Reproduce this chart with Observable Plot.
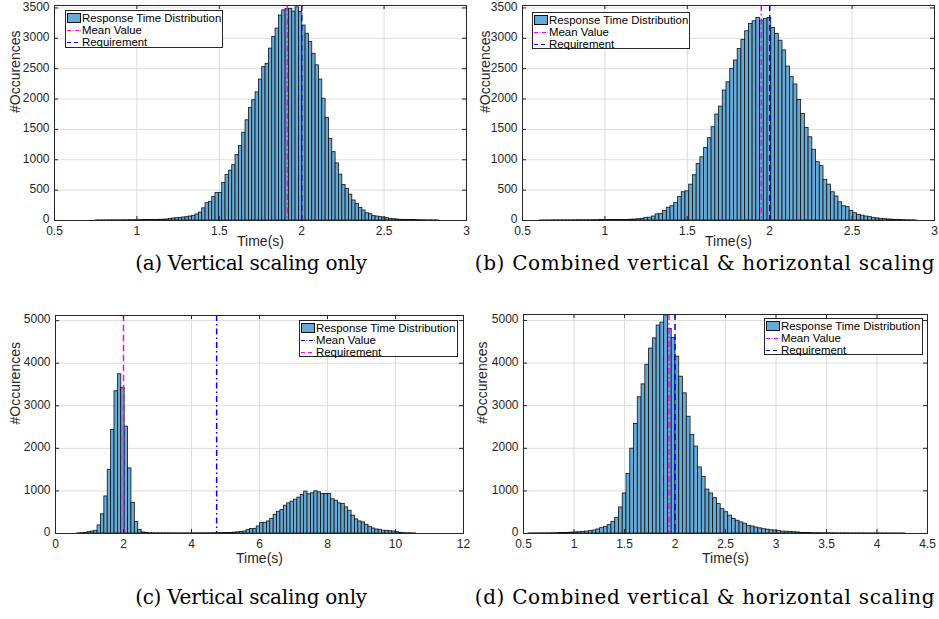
<!DOCTYPE html>
<html>
<head>
<meta charset="utf-8">
<script src="https://cdn.jsdelivr.net/npm/d3@7"></script>
<script src="https://cdn.jsdelivr.net/npm/@observablehq/plot@0.6"></script>
<style>
  html, body { margin: 0; padding: 0; background: #fff; }
  #root { position: relative; width: 939px; height: 619px; overflow: hidden; font-family: "Liberation Sans", Arial, sans-serif; }
  .panel { position: absolute; }
  .legend { position: absolute; background: #fff; border: 1px solid #262626; box-sizing: border-box; }
  .legend .row { position: absolute; left: 0; height: 12px; line-height: 12px; font-size: 11.4px; color: #000; white-space: nowrap; }
  .legend .row svg { position: absolute; left: 1px; top: 0; }
  .legend .row span { position: absolute; left: 16px; top: 0; }
  .caption { position: absolute; transform: translateX(-50%); white-space: nowrap; font-family: "DejaVu Serif", serif; font-size: 20px; line-height: 24px; color: #000; }
</style>
</head>
<body>
<div id="root"></div>
<script>
// ---------- Data ----------
const xTicksAB = [0.5, 1, 1.5, 2, 2.5, 3];
const yTicksAB = [0, 500, 1000, 1500, 2000, 2500, 3000, 3500];
const xTicksC = [0, 2, 4, 6, 8, 10, 12];
const xTicksD = [0.5, 1, 1.5, 2, 2.5, 3, 3.5, 4, 4.5];
const yTicksCD = [0, 1000, 2000, 3000, 4000, 5000];

const legendLabels = ["Response Time Distribution", "Mean Value", "Requirement"];
const captions = [
  "(a) Vertical scaling only",
  "(b) Combined vertical & horizontal scaling",
  "(c) Vertical scaling only",
  "(d) Combined vertical & horizontal scaling"
];

// (a) histogram: first bin edge, bin width, counts
const startA = 0.7485;
const widthA = 0.02024;
const countsA = [
  1,1,2,1,2,3,3,3,4,4,5,5,6,6,7,8,8,9,10,12,13,
  16,27,33,38,44,50,55,66,77,100,
  130,200,285,307,385,455,455,620,750,820,
  910,1080,1225,1445,1650,1855,1980,2110,2320,2525,
  2580,2830,3020,3160,3375,3460,3485,3485,3440,3510,
  3430,3210,3075,2940,2745,2555,2320,2005,1690,1345,
  1125,940,755,585,520,425,330,275,205,165,
  120,105,72,65,55,50,38,27,22,16,
  11,11,
  9,8,7,6,5,4,3,3,2,2
];
const meanA = 1.913, reqA = 2.0;

// (b)
const startB = 0.6059;
const widthB = 0.02264;
const countsB = [
  1,1,1,2,2,2,3,3,3,4,4,4,5,5,6,6,7,7,8,8,9,9,10,
  10,13,16,22,27,44,46,66,100,110,
  155,210,235,290,385,465,480,590,745,930,
  1040,1195,1355,1535,1745,1875,2140,2275,2495,2635,
  2825,2975,3115,3235,3280,3335,3290,3320,3335,3170,
  3070,2960,2800,2535,2360,2240,1985,1755,1525,1370,
  1165,960,895,670,590,465,395,300,235,220,
  155,120,95,80,66,55,44,
  35,28,22,17,13,10,8,6,4,3,2
];
const meanB = 1.949, reqB = 2.0;

// (c)
const startC = 0.64;
const widthC = 0.0996;
const countsC = [
  3,8,16,31,47,63,190,450,870,1490,2430,3340,3740,3420,2510,1530,720,270,80,25,
  12,8,6,5,5,4,4,4,3,3,3,3,3,4,4,4,5,5,6,6,7,8,9,10,12,15,20,28,35,
  47,79,102,110,165,244,252,283,346,440,
  511,550,653,708,748,795,842,905,984,920,
  944,991,968,929,929,929,803,771,708,693,
  614,535,420,330,283,260,205,157,118,94,
  87,63,63,55,47,31,16,
  8,6,4,3
];
const meanC = 4.74, reqC = 2.0;

// (d)
const startD = 0.55;
const widthD = 0.0373;
const countsD = [
  2,2,3,3,4,5,6,8,10,12,15,20,25,30,38,45,55,70,95,
  125,157,196,274,368,611,940,1395,1990,2570,
  3197,3500,3960,4340,4580,4880,4950,5118,
  4800,4590,4150,3680,3290,2740,2310,2040,1550,1330,1030,940,830,690,570,
  500,420,340,300,260,230,180,165,140,120,100,90,75,70,55,45,40,35,30,25,
  15,12,10,9,8,7,6,6,5,5,4,4,4,3,3,3,3,2,2,2,2,2,2,2,1,1,1,1
];
const meanD = 1.941, reqD = 2.0;

// ---------- Styles ----------
const BAR_FILL = "#66aad7";
const MAGENTA = "#ff00ff";
const BLUE = "#0000ff";
const DASHDOT = "6,3,1.5,3";
const DASH = "6,4";

const root = document.getElementById("root");

function panel(cfg) {
  const {left, top, width, height, ml, mr, mt, mb, xDomain, yDomain, xTicks, yTicks,
         start, binWidth, counts, meanX, reqX, meanColor, reqColor, xlabDy, ylabDx} = cfg;
  const bins = counts.map((c, i) => ({x1: start + i * binWidth, x2: start + (i + 1) * binWidth, y: c}));
  const innerW = width - ml - mr;
  const innerH = height - mt - mb;
  const chart = Plot.plot({
    width, height,
    marginLeft: ml, marginRight: mr, marginTop: mt, marginBottom: mb,
    x: {domain: xDomain},
    y: {domain: yDomain},
    style: {fontFamily: '"Liberation Sans", Arial, sans-serif', fontSize: "12px", color: "#262626", background: "transparent", overflow: "visible"},
    marks: [
      Plot.gridX(xTicks, {stroke: "#dddddd", strokeOpacity: 1}),
      Plot.gridY(yTicks, {stroke: "#dddddd", strokeOpacity: 1}),
      Plot.rectY(bins, {x1: "x1", x2: "x2", y1: 0, y2: "y", fill: BAR_FILL, stroke: "#111", strokeWidth: 0.8}),
      Plot.ruleX([meanX], {x: d => d, stroke: meanColor, strokeWidth: 1.5, strokeDasharray: DASHDOT}),
      Plot.ruleX([reqX], {x: d => d, stroke: reqColor, strokeWidth: 1.5, strokeDasharray: DASH}),
      Plot.frame({stroke: "#262626", strokeWidth: 1}),
      Plot.tickX(xTicks, {x: d => d, insetTop: innerH - 4, stroke: "#262626"}),
      Plot.tickX(xTicks, {x: d => d, insetBottom: innerH - 4, stroke: "#262626"}),
      Plot.tickY(yTicks, {y: d => d, insetRight: innerW - 4, stroke: "#262626"}),
      Plot.tickY(yTicks, {y: d => d, insetLeft: innerW - 4, stroke: "#262626"}),
      Plot.axisX(xTicks, {anchor: "bottom", tickSize: 0, tickPadding: 6, tickFormat: d => String(d), label: null, fontSize: 12}),
      Plot.axisY(yTicks, {anchor: "left", tickSize: 0, tickPadding: 5, dy: -1, tickFormat: d => String(d), label: null, fontSize: 12}),
      Plot.text(["Time(s)"], {text: d => d, frameAnchor: "bottom", dy: xlabDy, fontSize: 14, fill: "#262626"}),
      Plot.text(["#Occurences"], {text: d => d, frameAnchor: "left", dx: -ylabDx, rotate: -90, fontSize: 14, fill: "#262626"})
    ]
  });
  const wrap = document.createElement("div");
  wrap.className = "panel";
  wrap.style.left = left + "px";
  wrap.style.top = top + "px";
  wrap.appendChild(chart);
  root.appendChild(wrap);
}

function legend(left, top, width, height, meanColor, reqColor) {
  const box = document.createElement("div");
  box.className = "legend";
  Object.assign(box.style, {left: left + "px", top: top + "px", width: width + "px", height: height + "px"});
  const rowsTop = [1, 13, 25];
  legendLabels.forEach((lab, i) => {
    const row = document.createElement("div");
    row.className = "row";
    row.style.top = rowsTop[i] + "px";
    row.style.width = (width - 2) + "px";
    let sw;
    if (i === 0) {
      sw = `<svg width="15" height="12"><rect x="0.5" y="1.5" width="13" height="9" fill="${BAR_FILL}" stroke="#111" stroke-width="1"/></svg>`;
    } else {
      const col = i === 1 ? meanColor : reqColor;
      const dash = i === 1 ? "4,1.5,1,1.5" : "4,3";
      sw = `<svg width="15" height="12"><line x1="0" y1="6.5" x2="14" y2="6.5" stroke="${col}" stroke-width="1.2" stroke-dasharray="${dash}"/></svg>`;
    }
    row.innerHTML = sw + `<span>${lab}</span>`;
    box.appendChild(row);
  });
  root.appendChild(box);
}

function caption(text, cx, top, targetWidth) {
  const d = document.createElement("div");
  d.className = "caption";
  d.style.left = cx + "px";
  d.style.top = top + "px";
  d.textContent = text;
  root.appendChild(d);
  const w = d.getBoundingClientRect().width;
  const sp = (targetWidth - w) / Math.max(1, text.length - 1);
  d.style.letterSpacing = sp.toFixed(3) + "px";
}

panel({left: 0, top: 0, width: 470, height: 252, ml: 54, mr: 4, mt: 5, mb: 32,
  xDomain: [0.5, 3], yDomain: [0, 3540], xTicks: xTicksAB, yTicks: yTicksAB,
  start: startA, binWidth: widthA, counts: countsA, meanX: meanA, reqX: reqA,
  meanColor: MAGENTA, reqColor: BLUE, xlabDy: 25, ylabDx: 39});
panel({left: 470, top: 0, width: 469, height: 252, ml: 52, mr: 5, mt: 5, mb: 32,
  xDomain: [0.5, 3], yDomain: [0, 3540], xTicks: xTicksAB, yTicks: yTicksAB,
  start: startB, binWidth: widthB, counts: countsB, meanX: meanB, reqX: reqB,
  meanColor: MAGENTA, reqColor: BLUE, xlabDy: 25, ylabDx: 37});
panel({left: 0, top: 300, width: 470, height: 272, ml: 55, mr: 7, mt: 15, mb: 39,
  xDomain: [0, 12], yDomain: [0, 5120], xTicks: xTicksC, yTicks: yTicksCD,
  start: startC, binWidth: widthC, counts: countsC, meanX: meanC, reqX: reqC,
  meanColor: BLUE, reqColor: MAGENTA, xlabDy: 29, ylabDx: 40});
panel({left: 470, top: 300, width: 469, height: 272, ml: 53, mr: 12, mt: 14, mb: 39,
  xDomain: [0.5, 4.5], yDomain: [0, 5140], xTicks: xTicksD, yTicks: yTicksCD,
  start: startD, binWidth: widthD, counts: countsD, meanX: meanD, reqX: reqD,
  meanColor: MAGENTA, reqColor: BLUE, xlabDy: 29, ylabDx: 41});

legend(65, 10, 158, 38, MAGENTA, BLUE);
legend(532, 12, 158, 37, MAGENTA, BLUE);
legend(299, 320, 159, 37, BLUE, MAGENTA);
legend(764, 318, 159, 37, MAGENTA, BLUE);

caption(captions[0], 251, 251, 232);
caption(captions[1], 705, 251, 460);
caption(captions[2], 251, 585, 232);
caption(captions[3], 705, 585, 460);
</script>
</body>
</html>
